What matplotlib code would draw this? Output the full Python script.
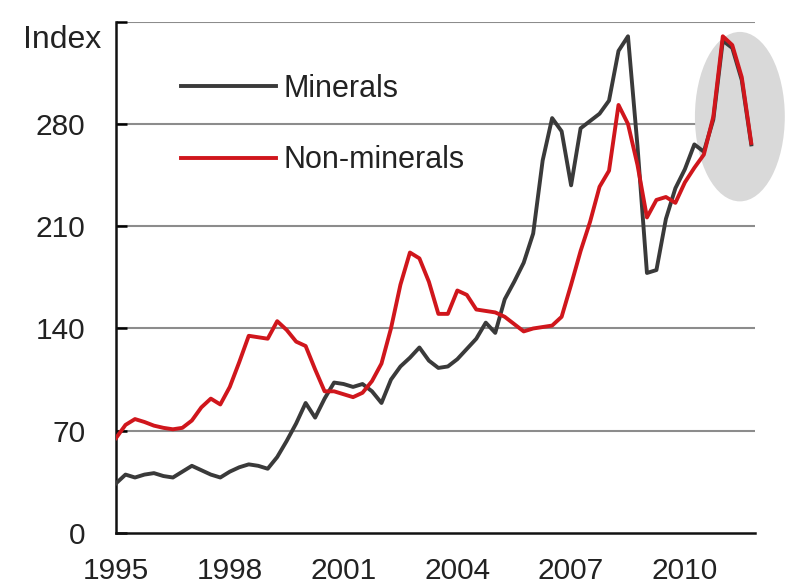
import numpy as np
import matplotlib
matplotlib.use("Agg")
import matplotlib.pyplot as plt
from matplotlib.patches import Ellipse

plt.rcParams['font.family'] = ['Liberation Sans', 'DejaVu Sans']

# Quarterly observations, 1995Q1 - 2011Q4
quarters = np.arange(1995.0, 2012.0, 0.25)

minerals = [
    34, 40, 38, 40, 41, 39, 38, 42,          # 1995-1996
    46, 43, 40, 38, 42, 45, 47, 46,          # 1997-1998
    44, 52, 63, 75, 89, 79, 92, 103,         # 1999-2000
    102, 100, 102, 97, 89, 105, 114, 120,    # 2001-2002
    127, 118, 113, 114, 119, 126, 133, 144,  # 2003-2004
    137, 160, 172, 185, 205, 255, 284, 275,  # 2005-2006
    238, 277, 282, 287, 296, 330, 340, 265,  # 2007-2008
    178, 180, 215, 236, 249, 266, 261, 283,  # 2009-2010
    337, 332, 310, 266,                      # 2011
]

non_minerals = [
    65, 74, 78, 76, 73.5, 72, 71, 72,        # 1995-1996
    77, 86, 92, 88, 100, 117, 135, 134,      # 1997-1998
    133, 145, 139, 131, 128, 112, 97, 97,    # 1999-2000
    95, 93, 96, 104, 116, 140, 170, 192,     # 2001-2002
    188, 172, 150, 150, 166, 163, 153, 152,  # 2003-2004
    151, 148, 143, 138, 140, 141, 142, 148,  # 2005-2006
    170, 193, 213, 237, 248, 293, 280, 252,  # 2007-2008
    216, 228, 230, 226, 240, 250, 259, 285,  # 2009-2010
    340, 334, 312, 267,                      # 2011
]

y_ticks = [0, 70, 140, 210, 280, 350]
y_tick_labels = ['0', '70', '140', '210', '280', '']
x_ticks = [1995, 1998, 2001, 2004, 2007, 2010]
x_tick_labels = ['1995', '1998', '2001', '2004', '2007', '2010']

fig = plt.figure(figsize=(7.86, 5.86), dpi=100)
ax = fig.add_axes([0.1476, 0.0904, 0.8130, 0.8726])

ax.set_xlim(1995.0, 2011.85)
ax.set_ylim(0, 350)

# horizontal grid
for v in y_ticks[1:]:
    ax.axhline(v, color='#8c8c8c', lw=1.5, zorder=1)

# highlight of the latest readings
ell = Ellipse((2011.45, 285), width=2.37, height=116, facecolor='#d9d9d9',
              edgecolor='none', zorder=1.5, clip_on=False)
ax.add_patch(ell)

ax.plot(quarters, minerals, color='#3a3a3a', lw=2.8, label='Minerals',
        zorder=3, solid_joinstyle='round')
ax.plot(quarters, non_minerals, color='#d0161c', lw=2.8, label='Non-minerals',
        zorder=4, solid_joinstyle='round')

for s in ['top', 'right']:
    ax.spines[s].set_visible(False)
ax.spines['left'].set_linewidth(1.8)
ax.spines['left'].set_color('#111111')
ax.spines['bottom'].set_linewidth(1.8)
ax.spines['bottom'].set_color('#111111')

ax.set_yticks(y_ticks)
ax.set_yticklabels(y_tick_labels)
ax.set_xticks(x_ticks)
ax.set_xticklabels(x_tick_labels)
ax.tick_params(axis='y', direction='in', length=8, width=1.8, pad=22,
               labelsize=21.5, labelcolor='#222222')
ax.tick_params(axis='x', length=0, pad=17, labelsize=21.5, labelcolor='#222222')

fig.text(62 / 786, 1 - 40 / 586, 'Index', fontsize=23, color='#222222',
         ha='center', va='center')

leg = ax.legend(loc='upper left', bbox_to_anchor=(181 / 786, 1 - 74 / 586),
                bbox_transform=fig.transFigure, frameon=False, fontsize=22,
                handlelength=3.1, handletextpad=0.25, labelspacing=1.35,
                borderpad=0, borderaxespad=0)
for t in leg.get_texts():
    t.set_color('#222222')

fig.savefig('out.png', dpi=100)
